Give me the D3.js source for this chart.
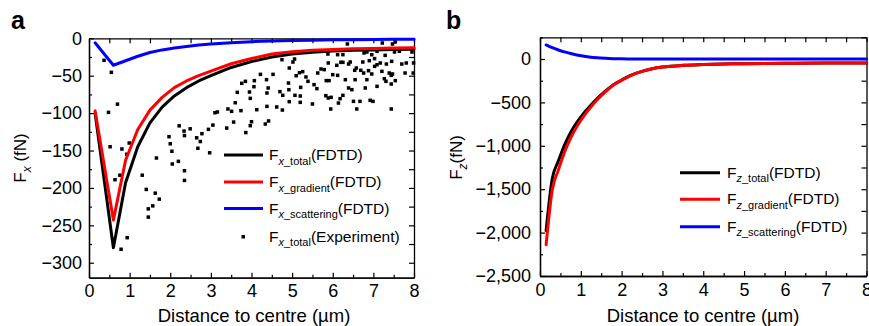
<!DOCTYPE html>
<html>
<head>
<meta charset="utf-8">
<script src="https://cdn.jsdelivr.net/npm/d3@7"></script>
<style>
  body { margin: 0; background: #fff; }
  svg text { font-family: "Liberation Sans", Arial, Helvetica, sans-serif; }
</style>
</head>
<body>
<svg id="chart" width="869" height="326"></svg>
<script>
// ---- panel a : lateral force ----
const distA = [0.15, 0.6, 0.9, 1.2, 1.5, 1.8, 2.1, 2.4, 2.7, 3.0, 3.5, 4.0, 4.5, 5.0, 5.5, 6.0, 6.5, 7.0, 7.5, 8.0];
const fxTotal = [-100, -280, -193, -145, -113, -92, -77, -66, -57, -50, -39, -31, -25, -21, -18.5, -17, -16, -15.5, -15, -14.5];
const fxGradient = [-97, -243, -163, -122, -96, -79, -66, -57, -50, -44, -34, -27, -21, -18, -16, -15, -14, -13.5, -13, -12.5];
const fxScattering = [-6, -36, -30, -24, -19, -15.5, -13, -11, -9, -7.5, -6, -4.5, -3.5, -3, -2.5, -2, -1.8, -1.5, -1.3, -1.2];

// measured points [distance, force]
const fxExperiment = [
  [0.37,-29.4],[0.55,-45.5],[0.70,-88],[0.48,-99],[0.52,-145],[0.81,-148],[0.99,-140],[0.93,-155],
  [0.64,-189],[0.76,-183],[0.94,-266.5],[0.79,-282],[1.66,-160],[1.31,-183],[1.41,-202],[1.63,-207],
  [1.73,-215],[1.57,-224],[1.46,-228],[1.46,-239],[1.97,-131.5],[2.0,-141],[2.04,-151],[2.05,-168],
  [2.2,-164.5],[2.22,-117],[2.34,-124],[2.35,-130],[2.35,-177],[2.35,-190],[2.49,-121],[2.65,-133],
  [2.74,-138],[2.68,-147],[2.78,-127.5],[2.97,-153],
  [4.75,-28.6],[5.02,-31.7],[5.06,-27.7],[4.93,-39.7],[4.22,-48.2],[4.53,-48.2],[5.10,-50],[5.18,-46],
  [5.26,-44.6],[5.34,-51.7],[5.39,-57.5],[4.37,-55.3],[4.07,-56.6],[3.85,-57.5],[3.76,-60.2],[4.91,-59.8],
  [4.06,-64.7],[4.41,-66.4],[4.92,-68.7],[5.21,-65.6],[3.65,-72.2],[3.95,-71.8],[4.38,-73.1],[4.70,-71.3],
  [4.77,-76.2],[5.07,-76.2],[5.20,-77.1],[3.97,-80.3],[3.60,-86.1],[4.93,-84.7],[5.20,-85.6],[3.42,-94.5],
  [3.74,-96.7],[4.38,-91],[4.62,-91.8],[4.76,-95.9],[4.13,-95.4],[3.16,-98.5],[3.51,-97.6],[3.10,-99.5],
  [3.05,-116],[2.94,-121.7],[3.56,-112],[3.39,-120],[4.0,-111.5],[3.97,-116.8],[3.86,-126],[4.42,-110.5],
  [4.34,-114.6],
  [6.36,-7.6],[7.22,-6.3],[7.47,-7.6],[7.54,-4.9],[5.88,-21],[6.12,-21.9],[6.25,-21.9],[6.77,-19.6],
  [6.84,-18.3],[6.96,-21.9],[7.09,-17.4],[7.29,-22.8],[7.52,-18.3],[7.64,-17.4],[7.95,-18.3],[5.89,-33],
  [6.10,-36.1],[6.20,-32.1],[6.25,-32.1],[6.39,-34.4],[6.43,-31.7],[6.74,-31.7],[6.90,-29.9],[7.03,-27.2],
  [7.17,-33],[7.32,-34.4],[7.45,-30.8],[7.70,-34.4],[7.81,-33],[7.99,-33],[5.71,-41],[5.79,-41.9],
  [5.63,-46.4],[6.0,-48.6],[6.12,-49.5],[6.54,-42.8],[6.58,-39.7],[6.69,-42.8],[6.76,-46.4],[6.88,-43.3],
  [6.96,-47.7],[7.03,-37.5],[7.09,-35.3],[7.21,-44.2],[7.39,-46.4],[7.44,-49.5],[7.47,-47.7],[7.78,-46.4],
  [7.98,-46.4],[5.84,-56.6],[5.91,-56.6],[6.31,-55.3],[6.55,-55.3],[6.84,-55.3],[7.27,-54],[7.31,-57.5],
  [7.54,-56.6],[5.54,-62],[5.61,-67.3],[6.39,-66.4],[6.47,-68.7],[6.80,-66.4],[7.09,-64.2],[7.44,-61.1],
  [5.83,-76.7],[5.89,-79.8],[5.96,-78.9],[6.18,-80.7],[6.25,-76.2],[6.51,-84.3],[6.67,-84.3],[6.92,-82.9],
  [6.99,-84.3],[5.5,-87.8],[6.14,-86.5],[5.95,-94.5],[6.59,-94.5],[7.44,-94.5]
];

// ---- panel b : vertical force ----
const distB = [0.15, 0.3, 0.45, 0.6, 0.75, 0.9, 1.05, 1.2, 1.4, 1.6, 1.8, 2.0, 2.25, 2.5, 2.75, 3.0, 3.5, 4.0, 4.5, 5.0, 5.5, 6.0, 7.0, 8.0];
const fzTotal = [-1978, -1380, -1176, -993, -847, -733, -638, -556, -456, -370, -296, -243, -184, -142, -112, -93, -73, -64, -58, -54, -51, -49, -47, -46];
const fzGradient = [-2140, -1510, -1280, -1075, -910, -780, -672, -580, -470, -378, -300, -245, -185, -142, -112, -93, -73, -64, -58, -54, -51, -49, -47, -46];
const fzScattering = [162, 130, 104, 82, 63, 47, 34, 24, 14, 8, 4, 2, 1, 0, 0, 0, 0, 0, 0, 0, 0, 0, 0, 0];

const xTicks = [0, 1, 2, 3, 4, 5, 6, 7, 8];
const xMinorTicks = [0.5, 1.5, 2.5, 3.5, 4.5, 5.5, 6.5, 7.5];
const yTicksA = [0, -50, -100, -150, -200, -250, -300];
const yMinorA = [-25, -75, -125, -175, -225, -275];
const yTicksB = [0, -500, -1000, -1500, -2000, -2500];
const yMinorB = [250, -250, -750, -1250, -1750, -2250];

const svg = d3.select('#chart');

function drawFrame(g, x, y, w, h, yTicks, yMinor, yFmt, yPad) {
  const big = 5, small = 3;
  const clean = sel => {
    sel.attr('font-family', null).attr('font-size', 18);
    sel.select('.domain').attr('stroke-width', 1.3);
    sel.selectAll('.tick line').attr('stroke-width', 1.2);
  };

  g.append('g').attr('transform', 'translate(0,' + h + ')')
    .call(d3.axisBottom(x).tickValues(xTicks).tickSize(-big).tickSizeOuter(0).tickPadding(7).tickFormat(d3.format('d')))
    .call(clean);
  g.append('g').attr('transform', 'translate(0,' + h + ')')
    .call(d3.axisBottom(x).tickValues(xMinorTicks).tickSize(-small).tickSizeOuter(0).tickFormat(''))
    .call(clean);
  g.append('g')
    .call(d3.axisTop(x).tickValues(xTicks.concat(xMinorTicks)).tickSize(-big).tickSizeOuter(0).tickFormat(''))
    .call(clean);

  g.append('g')
    .call(d3.axisLeft(y).tickValues(yTicks).tickSize(-big).tickSizeOuter(0).tickPadding(yPad).tickFormat(yFmt))
    .call(clean);
  g.append('g')
    .call(d3.axisLeft(y).tickValues(yMinor).tickSize(-small).tickSizeOuter(0).tickFormat(''))
    .call(clean);
  g.append('g').attr('transform', 'translate(' + w + ',0)')
    .call(d3.axisRight(y).tickValues(yTicks.concat(yMinor)).tickSize(-big).tickSizeOuter(0).tickFormat(''))
    .call(clean);
}

function drawSeries(g, x, y, xs, ys, color, curve) {
  const line = d3.line().curve(curve || d3.curveLinear).x((d, i) => x(xs[i])).y(d => y(d));
  g.append('path').attr('d', line(ys))
    .attr('fill', 'none').attr('stroke', color).attr('stroke-width', 3)
    .attr('stroke-linejoin', 'round').attr('stroke-linecap', 'round');
}

function legendText(g, tx, ty, sym, sub, tail) {
  const t = g.append('text').attr('x', tx).attr('y', ty).attr('font-size', 15.5).attr('fill', '#000');
  t.append('tspan').text('F');
  t.append('tspan').attr('dy', 4.5).attr('font-size', 11).attr('font-style', 'italic').text(sym);
  t.append('tspan').attr('font-size', 11).text('_' + sub);
  t.append('tspan').attr('dy', -4.5).text(tail);
}

function legendLine(g, x0, x1, ly, color) {
  g.append('line').attr('x1', x0).attr('x2', x1).attr('y1', ly).attr('y2', ly)
    .attr('stroke', color).attr('stroke-width', 3);
}

// ---------- panel a ----------
const mA = { left: 89, top: 38.3, right: 414, bottom: 277.7 };
const wA = mA.right - mA.left, hA = mA.bottom - mA.top;
const xA = d3.scaleLinear().domain([0, 8]).range([0, wA]);
const yA = d3.scaleLinear().domain([-320, 0]).range([hA, 0]);
const gA = svg.append('g').attr('transform', 'translate(' + mA.left + ',' + mA.top + ')');

drawFrame(gA, xA, yA, wA, hA, yTicksA, yMinorA, d3.format(','), 7);

gA.selectAll('.exp').data(fxExperiment).enter()
  .append('rect').attr('class', 'exp')
  .attr('x', d => xA(d[0]) - 1.75).attr('y', d => yA(d[1]) - 1.75)
  .attr('width', 3.5).attr('height', 3.5).attr('fill', '#000');

drawSeries(gA, xA, yA, distA, fxTotal, '#000');
drawSeries(gA, xA, yA, distA, fxGradient, '#ff0000');
drawSeries(gA, xA, yA, distA, fxScattering, '#0000ff');

legendLine(svg, 224, 263, 155, '#000');
legendText(svg, 269, 160, 'x', 'total', '(FDTD)');
legendLine(svg, 224, 263, 182, '#ff0000');
legendText(svg, 269, 187, 'x', 'gradient', '(FDTD)');
legendLine(svg, 224, 263, 208.5, '#0000ff');
legendText(svg, 269, 213.5, 'x', 'scattering', '(FDTD)');
svg.append('rect').attr('x', 241.5).attr('y', 235).attr('width', 3.5).attr('height', 3.5).attr('fill', '#000');
legendText(svg, 269, 241.5, 'x', 'total', '(Experiment)');

const yTitleA = svg.append('text').attr('transform', 'translate(25.5,158) rotate(-90)')
  .attr('text-anchor', 'middle').attr('font-size', 17);
yTitleA.append('tspan').text('F');
yTitleA.append('tspan').attr('dy', 5).attr('font-size', 12).attr('font-style', 'italic').text('x');
yTitleA.append('tspan').attr('dy', -5).text(' (fN)');

svg.append('text').attr('x', 254).attr('y', 321.5).attr('text-anchor', 'middle')
  .attr('font-size', 18.5).text('Distance to centre (\u00b5m)');

svg.append('text').attr('x', 11).attr('y', 29).attr('font-size', 25).attr('font-weight', 'bold').text('a');

// ---------- panel b ----------
const mB = { left: 540, top: 37.3, right: 866.5, bottom: 276 };
const wB = mB.right - mB.left, hB = mB.bottom - mB.top;
const xB = d3.scaleLinear().domain([0, 8]).range([0, wB]);
const yB = d3.scaleLinear().domain([-2500, 250]).range([hB, 0]);
const gB = svg.append('g').attr('transform', 'translate(' + mB.left + ',' + mB.top + ')');

drawFrame(gB, xB, yB, wB, hB, yTicksB, yMinorB, d3.format(','), 9);

drawSeries(gB, xB, yB, distB, fzTotal, '#000', d3.curveMonotoneX);
drawSeries(gB, xB, yB, distB, fzGradient, '#ff0000', d3.curveMonotoneX);
drawSeries(gB, xB, yB, distB, fzScattering, '#0000ff', d3.curveMonotoneX);

legendLine(svg, 680, 720, 172.7, '#000');
legendText(svg, 727, 177.7, 'z', 'total', '(FDTD)');
legendLine(svg, 680, 720, 199.3, '#ff0000');
legendText(svg, 727, 204.3, 'z', 'gradient', '(FDTD)');
legendLine(svg, 680, 720, 226.7, '#0000ff');
legendText(svg, 727, 231.7, 'z', 'scattering', '(FDTD)');

const yTitleB = svg.append('text').attr('transform', 'translate(462,157.5) rotate(-90)')
  .attr('text-anchor', 'middle').attr('font-size', 17);
yTitleB.append('tspan').text('F');
yTitleB.append('tspan').attr('dy', 5).attr('font-size', 12).attr('font-style', 'italic').text('z');
yTitleB.append('tspan').attr('dy', -5).text('(fN)');

svg.append('text').attr('x', 703).attr('y', 321.5).attr('text-anchor', 'middle')
  .attr('font-size', 18.5).text('Distance to centre (\u00b5m)');

svg.append('text').attr('x', 446).attr('y', 29).attr('font-size', 25).attr('font-weight', 'bold').text('b');
</script>
</body>
</html>
